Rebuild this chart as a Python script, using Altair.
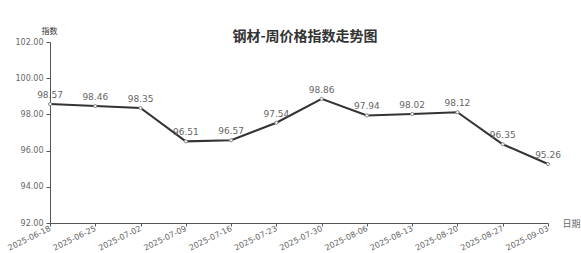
import altair as alt
import pandas as pd

dates = ["2025-06-18", "2025-06-25", "2025-07-02", "2025-07-09", "2025-07-16", "2025-07-23",
         "2025-07-30", "2025-08-06", "2025-08-13", "2025-08-20", "2025-08-27", "2025-09-03"]
values = [98.57, 98.46, 98.35, 96.51, 96.57, 97.54, 98.86, 97.94, 98.02, 98.12, 96.35, 95.26]
y_ticks = [92, 94, 96, 98, 100, 102]

df = pd.DataFrame({"date": dates, "value": values})

x = alt.X("date:N", sort=None, scale=alt.Scale(type="point", padding=0),
          axis=alt.Axis(title="日期", labelAngle=334, labelAlign="right", labelBaseline="middle",
                        labelFontSize=8, labelColor="#666666", labelFont="DejaVu Sans",
                        titleFont="Noto Sans CJK SC", titleFontSize=9, titleFontWeight="normal",
                        titleColor="#666666", titleAngle=0, titleX=512, titleY=0,
                        titleAlign="left", titleBaseline="middle",
                        domainColor="#555555", tickColor="#555555", tickSize=3, labelPadding=2))
y = alt.Y("value:Q", scale=alt.Scale(domain=[92, 102], nice=False, zero=False),
          axis=alt.Axis(title="指数", values=y_ticks, format=".2f", grid=False,
                        labelFontSize=8, labelColor="#666666", labelFont="DejaVu Sans",
                        titleFont="Noto Sans CJK SC", titleFontSize=8, titleFontWeight="normal",
                        titleColor="#333333", titleAngle=0, titleX=-1, titleY=-11,
                        titleAlign="center", titleBaseline="middle",
                        domainColor="#555555", tickColor="#555555", tickSize=4, labelPadding=3))

base = alt.Chart(df).encode(x=x, y=y)
line = base.mark_line(color="#333333", strokeWidth=2)
pts = base.mark_point(shape="circle", filled=True, fill="white", stroke="#888888",
                      strokeWidth=1, size=10, opacity=1)
labels = base.mark_text(dy=-9, fontSize=9, color="#666666", font="DejaVu Sans").encode(
    text=alt.Text("value:Q", format=".2f"))

chart = (line + pts + labels).properties(
    width=498, height=181,
    autosize=alt.AutoSizeParams(type="none"),
    padding={"left": 50, "top": 42, "right": 33, "bottom": 30},
    title=alt.TitleParams("钢材-周价格指数走势图", font="Noto Sans CJK SC", fontSize=14,
                          fontWeight="bold", color="#333333", anchor="middle", dx=6, offset=-17),
).configure_view(stroke=None)

chart.save("out.html", embed_options={"renderer": "svg", "actions": False})
